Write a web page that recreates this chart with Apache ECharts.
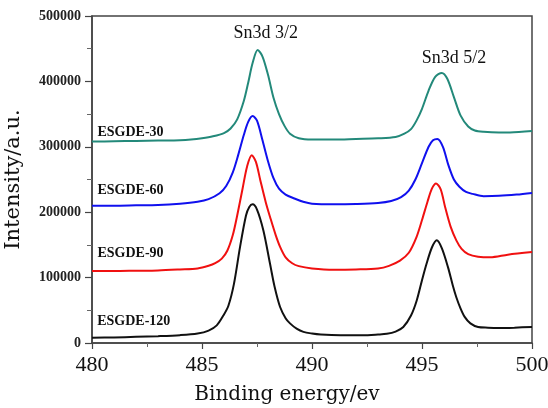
<!DOCTYPE html>
<html>
<head>
<meta charset="utf-8">
<script src="https://cdn.jsdelivr.net/npm/echarts@6/dist/echarts.min.js"></script>
<style>
html,body{margin:0;padding:0;background:#fff;}
#chart{width:548px;height:408px;}
</style>
</head>
<body>
<div id="chart"></div>
<script>
// ---- data ----
var xTicks = [480, 485, 490, 495, 500];
var yTicks = [0, 100000, 200000, 300000, 400000, 500000];

var e30 = [480,481,482,483,484,484.5,485,485.5,486,486.3,486.6,486.9,487.1,487.3,487.53,487.75,488.0,488.25,488.5,488.75,489.0,489.4,490,491,492,493,493.8,494.2,494.5,494.75,495.0,495.3,495.6,495.9,496.15,496.45,496.75,497.1,497.4,497.8,498.5,499,500];
var i30 = [308000,308500,309000,309500,310000,311000,313000,316000,321000,328000,342000,370000,398000,428000,448000,438000,410000,375000,350000,332000,320000,313000,311000,311000,312000,313000,315000,320000,327000,340000,358000,386000,407000,413000,404000,376000,348000,331000,325000,323000,322000,322000,324000];

var e60 = [480,481,482,483,484,484.8,485.3,485.8,486.1,486.4,486.65,486.9,487.1,487.3,487.5,487.75,488.0,488.25,488.5,488.8,489.2,489.6,490,491,492,493,493.6,494.05,494.4,494.7,495.0,495.3,495.5,495.7,495.95,496.2,496.45,496.7,497.0,497.3,497.8,498.5,499.3,500];
var i60 = [210000,210000,210500,211000,213000,216000,220000,229000,240000,261000,288000,318000,338000,347000,340000,310000,278000,252000,236000,227000,221000,216000,213000,212000,212500,214000,217000,223000,233000,250000,275000,300000,310000,312000,300000,272000,250000,239000,231000,228000,224500,225000,227000,229500];

var e90 = [480,481,482,483,484,484.8,485.3,485.6,485.9,486.15,486.4,486.6,486.85,487.05,487.26,487.45,487.65,487.9,488.1,488.35,488.55,488.8,489.1,489.4,490,491,492,493,493.5,494.0,494.4,494.75,495.0,495.25,495.45,495.64,495.85,496.05,496.3,496.56,496.8,497.1,497.55,498.1,498.9,500];
var i90 = [110000,110000,110500,111000,112500,114000,118000,122000,129000,141000,165000,195000,237000,270000,287000,277000,249000,215000,192000,165000,147000,131000,122000,117500,114000,112000,112500,114000,118000,126000,138000,162000,188000,216000,236000,244000,235000,208000,178000,157000,144000,136000,132000,131000,135000,139000];

var e120 = [480,481,482,483,484,484.8,485.3,485.67,485.97,486.2,486.45,486.73,487.0,487.15,487.3,487.5,487.79,488.09,488.3,488.55,488.8,489.0,489.3,489.61,490.0,490.4,491.3,492.3,493.0,493.4,493.8,494.15,494.5,494.76,495.0,495.21,495.45,495.67,495.9,496.18,496.4,496.56,496.75,496.94,497.2,497.55,498.0,498.45,499.2,500];
var i120 = [8000,8500,9500,10500,12000,14500,19000,27000,42000,57000,90000,147000,195000,208000,212000,204000,172000,121500,86000,55000,38000,30000,22000,17000,14500,13000,12000,12000,13000,14000,17500,24500,42000,65000,96000,121500,146000,157000,145000,116000,88000,70000,53000,40000,30000,24500,23500,23000,23500,24500];

var seriesNames = ['ESGDE-30','ESGDE-60','ESGDE-90','ESGDE-120'];
var seriesColors = ['#23897a','#1010ee','#f01010','#111111'];
var labelE = [481.75, 481.75, 481.75, 481.9];
var labelI = [322500, 232600, 136800, 33200];
var peakNames = ['Sn3d 3/2','Sn3d 5/2'];
var peakE = [487.9, 496.45];
var peakI = [474000, 435000];

function pairs(xs, ys){ var r=[]; for(var k=0;k<xs.length;k++) r.push([xs[k], ys[k]]); return r; }
var allE = [e30,e60,e90,e120];
var allI = [i30,i60,i90,i120];

var chart = echarts.init(document.getElementById('chart'));
var serif = '"Liberation Serif","Times New Roman",serif';
var wide = '"DejaVu Serif","Liberation Serif",serif';

var series = [];
for (var s=0; s<4; s++){
  var mp = [{coord:[labelE[s], labelI[s]], value: seriesNames[s], label:{formatter: seriesNames[s], fontSize:14, fontFamily:serif, color:'#111', fontWeight:'bold'}}];
  if (s===0){
    for (var p=0;p<2;p++) mp.push({coord:[peakE[p], peakI[p]], value: peakNames[p], label:{formatter: peakNames[p], fontSize:18, fontFamily:serif, color:'#111'}});
  }
  series.push({
    name: seriesNames[s], type:'line', data: pairs(allE[s], allI[s]),
    showSymbol:false, smooth:0.3,
    lineStyle:{color:seriesColors[s], width:2}, itemStyle:{color:seriesColors[s]},
    silent:true, animation:false,
    markPoint:{symbol:'circle', symbolSize:1, itemStyle:{color:'rgba(0,0,0,0)'},
      label:{show:true, position:'inside'}, data: mp, silent:true, animation:false}
  });
}

chart.setOption({
  animation:false,
  backgroundColor:'#fff',
  grid:{left:92, right:16, top:16, bottom:65, outerBoundsMode:'none', containLabel:false,
    show:true, borderColor:'#444', borderWidth:1.5, backgroundColor:'transparent'},
  xAxis:{type:'value', min:xTicks[0], max:xTicks[xTicks.length-1], interval:5,
    name:'Binding energy/ev', nameLocation:'middle', nameGap:42,
    nameTextStyle:{fontFamily:wide, fontSize:20, color:'#111', padding:[0,50,0,0]},
    axisLine:{show:true, onZero:false, lineStyle:{color:'#444', width:1.5}},
    axisTick:{show:true, inside:false, length:6, lineStyle:{color:'#444', width:1.2}},
    minorTick:{show:true, splitNumber:2, length:4, lineStyle:{color:'#666', width:1}},
    axisLabel:{fontFamily:serif, fontSize:22, color:'#111', margin:11},
    splitLine:{show:false}},
  yAxis:{type:'value', min:yTicks[0], max:yTicks[yTicks.length-1], interval:100000,
    name:'Intensity/a.u.', nameLocation:'middle', nameGap:68,
    nameTextStyle:{fontFamily:wide, fontSize:21, color:'#111'},
    axisLine:{show:true, lineStyle:{color:'#444', width:1.5}},
    axisTick:{show:true, inside:false, length:7, lineStyle:{color:'#444', width:1.2}},
    minorTick:{show:true, splitNumber:2, length:5, lineStyle:{color:'#666', width:1}},
    axisLabel:{fontFamily:serif, fontSize:14, fontWeight:'bold', color:'#222', margin:11,
      formatter:function(v){ return String(v); }},
    splitLine:{show:false}},
  series: series
});
</script>
</body>
</html>
